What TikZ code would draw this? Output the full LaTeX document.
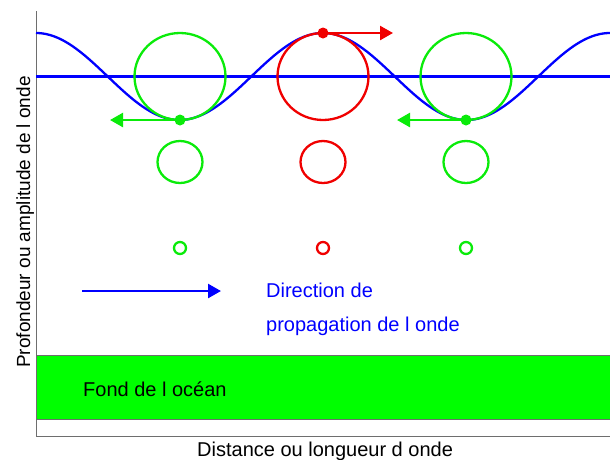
\documentclass[tikz,border=0pt]{standalone}
\usepackage{fontspec}
\setmainfont{Liberation Sans}
\usetikzlibrary{arrows.meta,shapes.geometric}
\definecolor{wblue}{RGB}{0,0,255}
\definecolor{wgreen}{RGB}{10,235,10}
\definecolor{wfill}{RGB}{0,255,0}
\definecolor{wred}{RGB}{240,0,0}
\definecolor{axisgray}{RGB}{110,110,110}
\tikzset{
  lbl/.style={inner sep=0pt, font=\fontsize{20}{24}\selectfont},
  orbit/.style={line width=2.3pt},
  dotnode/.style={circle, fill, inner sep=0pt, minimum size=11pt},
  mvarrow/.style={line width=2.5pt, -{Triangle[length=13pt,width=14pt]}},
}
\begin{document}
\begin{tikzpicture}[x=1pt,y=-1pt]
\useasboundingbox (0,0) rectangle (610,459);
% ocean floor
\fill[wfill] (36,355) rectangle (610,419);
\draw[axisgray, line width=0.6pt] (36,355) -- (610,355) (36,419) -- (610,419);
% axes
\draw[axisgray, line width=0.8pt] (36,11) -- (36,436) -- (610,436);
% mean level
\draw[wblue, line width=2.3pt] (36,76.5) -- (610,76.5);
% wave
\draw[wblue, line width=2.3pt] plot[domain=36:610, samples=240] (\x, {76.5-43.5*cos(1.254355*(\x-36))});
% large orbits
\draw[wgreen, orbit] (180,76.5) ellipse [x radius=45.5, y radius=43.5];
\draw[wred, orbit] (323,76.5) ellipse [x radius=45.5, y radius=43.5];
\draw[wgreen, orbit] (466,76.5) ellipse [x radius=45.5, y radius=43.5];
% medium orbits
\draw[wgreen, orbit] (180,162) ellipse [x radius=22.5, y radius=21];
\draw[wred, orbit] (323,162) ellipse [x radius=22.5, y radius=21];
\draw[wgreen, orbit] (466,162) ellipse [x radius=22.5, y radius=21];
% small orbits
\draw[wgreen, orbit] (180,248) circle [radius=6];
\draw[wred, orbit] (323,248) circle [radius=6];
\draw[wgreen, orbit] (466,248) circle [radius=6];
% particles
\node[dotnode, wgreen] (g1) at (180,120) {};
\node[dotnode, wred] (r1) at (323,33) {};
\node[dotnode, wgreen] (g2) at (466,120) {};
\coordinate (g1e) at (110,120);
\coordinate (r1e) at (393,33);
\coordinate (g2e) at (397,120);
\draw[wgreen, mvarrow] (g1.center) -- (g1e);
\draw[wred, mvarrow] (r1.center) -- (r1e);
\draw[wgreen, mvarrow] (g2.center) -- (g2e);
% propagation arrow
\coordinate (ps) at (82,291);
\coordinate (pe) at (221,291);
\draw[wblue, mvarrow] (ps) -- (pe);
\node[lbl, wblue, anchor=base west] (dir1) at (266,297) {Direction de};
\node[lbl, wblue, anchor=base west] (dir2) at (266,331) {propagation de l onde};
\node[lbl, anchor=base west] (fond) at (83,396) {Fond de l océan};
\node[lbl, anchor=base west] (xlab) at (197,456) {Distance ou longueur d onde};
\node[lbl, anchor=base west, rotate=90, font=\fontsize{19}{23}\selectfont] (ylab) at (30,368) {Profondeur ou amplitude de l onde};
\end{tikzpicture}
\end{document}
